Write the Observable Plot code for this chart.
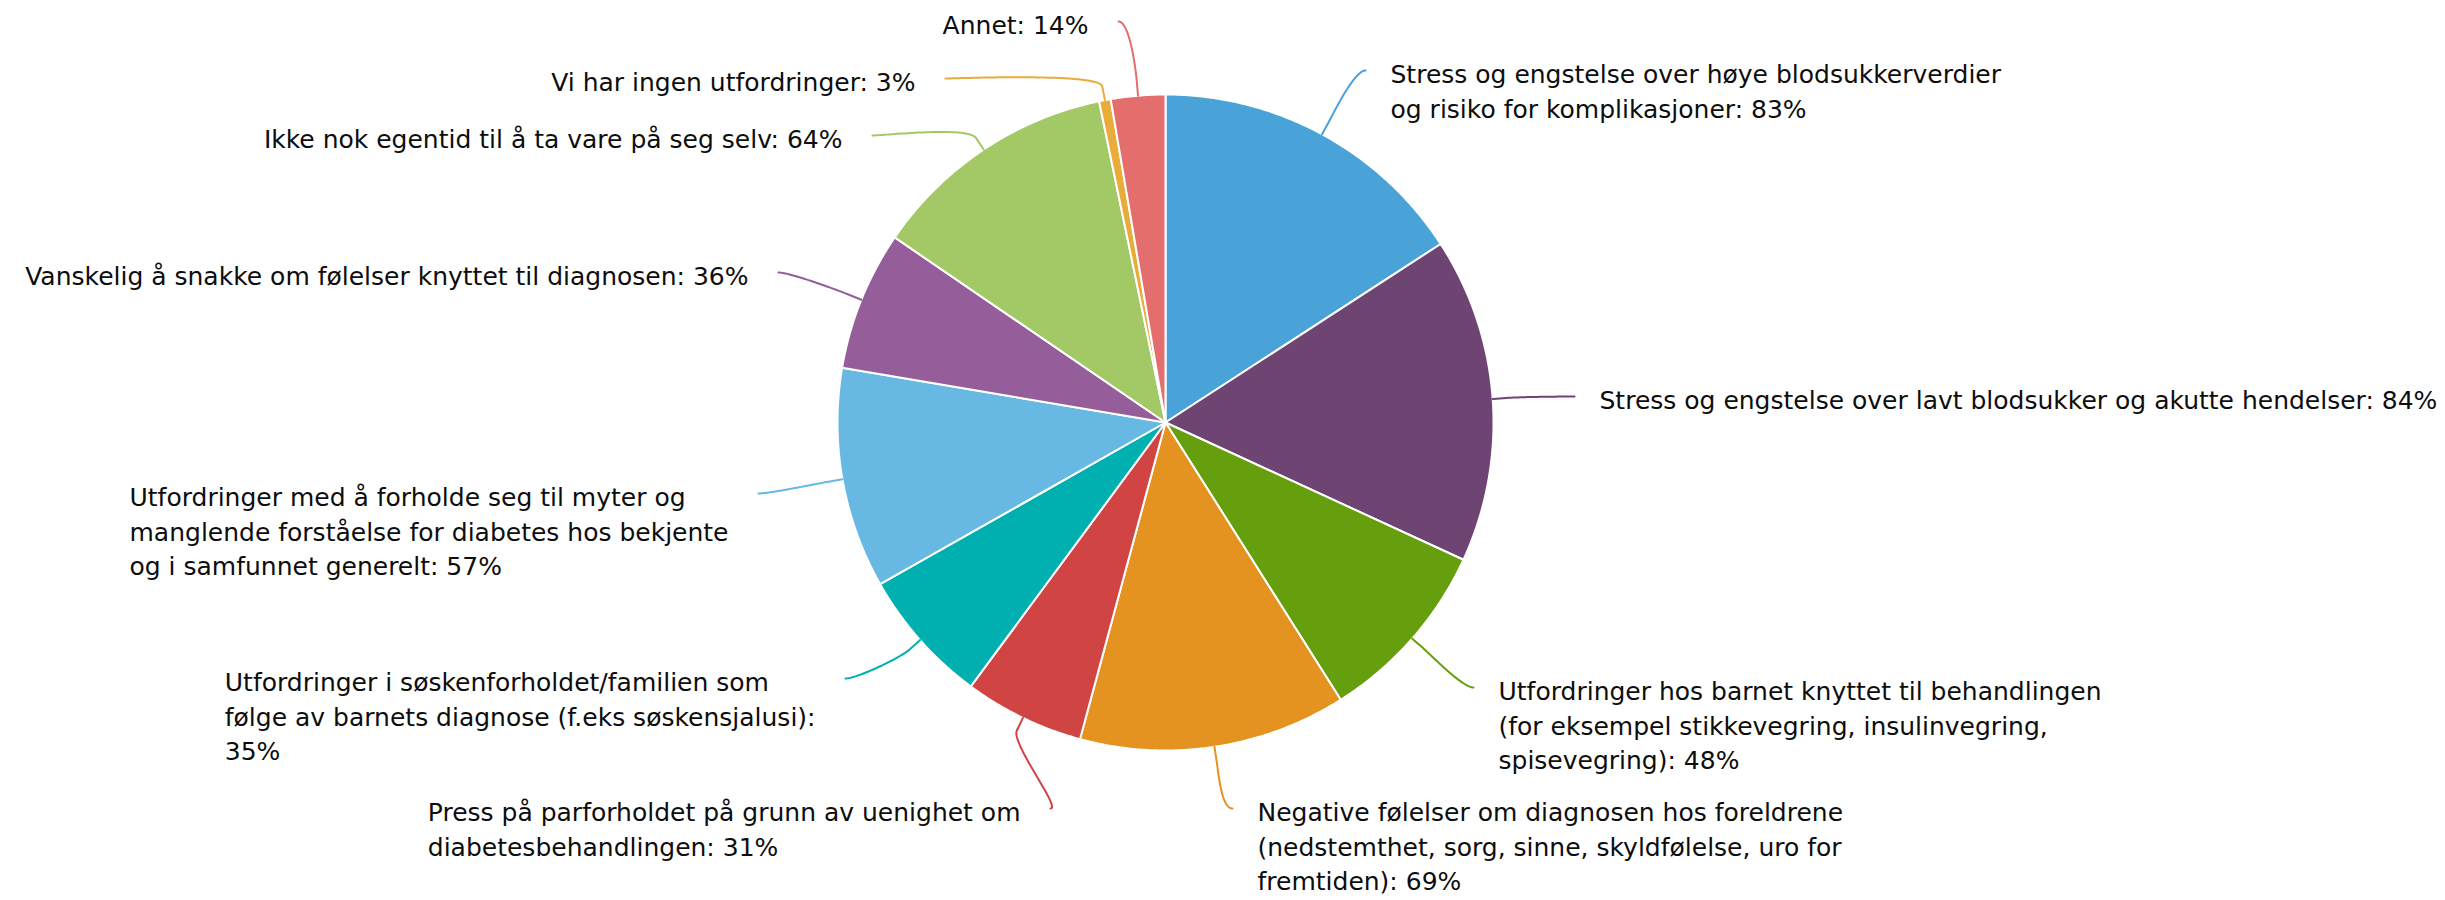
<!DOCTYPE html>
<html>
<head>
<meta charset="utf-8">
<script src="https://cdn.jsdelivr.net/npm/d3@7"></script>
<script src="https://cdn.jsdelivr.net/npm/@observablehq/plot@0.6"></script>
<style>
  html, body { margin: 0; padding: 0; background: #ffffff; }
  #chart svg { display: block; background: #ffffff; }
</style>
</head>
<body>
<div id="chart"></div>
<script>
// ---------------- data ----------------
const categories = [
  "Stress og engstelse over høye blodsukkerverdier og risiko for komplikasjoner",
  "Stress og engstelse over lavt blodsukker og akutte hendelser",
  "Utfordringer hos barnet knyttet til behandlingen (for eksempel stikkevegring, insulinvegring, spisevegring)",
  "Negative følelser om diagnosen hos foreldrene (nedstemthet, sorg, sinne, skyldfølelse, uro for fremtiden)",
  "Press på parforholdet på grunn av uenighet om diabetesbehandlingen",
  "Utfordringer i søskenforholdet/familien som følge av barnets diagnose (f.eks søskensjalusi)",
  "Utfordringer med å forholde seg til myter og manglende forståelse for diabetes hos bekjente og i samfunnet generelt",
  "Vanskelig å snakke om følelser knyttet til diagnosen",
  "Ikke nok egentid til å ta vare på seg selv",
  "Vi har ingen utfordringer",
  "Annet"
];
const values = [83, 84, 48, 69, 31, 35, 57, 36, 64, 3, 14];
const colors = ["#4aa3d8", "#6d4472", "#669f0d", "#e49320", "#d04444", "#00afaf",
                "#67b9e4", "#955e9a", "#a3c966", "#e9ab3a", "#e46e6e"];
// label text as wrapped in the chart ({v} = value)
const labelTemplates = [
  "Stress og engstelse over høye blodsukkerverdier\nog risiko for komplikasjoner: {v}%",
  "Stress og engstelse over lavt blodsukker og akutte hendelser: {v}%",
  "Utfordringer hos barnet knyttet til behandlingen\n(for eksempel stikkevegring, insulinvegring,\nspisevegring): {v}%",
  "Negative følelser om diagnosen hos foreldrene\n(nedstemthet, sorg, sinne, skyldfølelse, uro for\nfremtiden): {v}%",
  "Press på parforholdet på grunn av uenighet om\ndiabetesbehandlingen: {v}%",
  "Utfordringer i søskenforholdet/familien som\nfølge av barnets diagnose (f.eks søskensjalusi):\n{v}%",
  "Utfordringer med å forholde seg til myter og\nmanglende forståelse for diabetes hos bekjente\nog i samfunnet generelt: {v}%",
  "Vanskelig å snakke om følelser knyttet til diagnosen: {v}%",
  "Ikke nok egentid til å ta vare på seg selv: {v}%",
  "Vi har ingen utfordringer: {v}%",
  "Annet: {v}%"
];

// ---------------- layout ----------------
const W = 2445, H = 900;
const CX = 1165, CY = 422, R = 328;       // pie centre / radius (px)
const FONT = "DejaVu Sans", FS = 25, LH = 1.38;
// connector end point next to each label (px) and side of the label
const labelAnchors = [
  [1365, 70, "R"], [1574, 396, "R"], [1473, 687, "R"], [1232, 808, "R"],
  [1050, 808, "L"], [845, 678, "L"], [758, 493, "L"], [778, 272, "L"],
  [872, 135, "L"], [945, 78, "L"], [1118, 21, "L"]
];

// ---------------- build ----------------
const arcs = d3.pie().sort(null).value(d => d)(values);

const slicePts = [];
arcs.forEach((a, i) => {
  const n = Math.max(2, Math.ceil((a.endAngle - a.startAngle) / (Math.PI / 360)));
  slicePts.push({cat: categories[i], x: CX, y: CY});
  for (let k = 0; k <= n; k++) {
    const t = a.startAngle + (a.endAngle - a.startAngle) * k / n;
    slicePts.push({cat: categories[i], x: CX + R * Math.sin(t), y: CY - R * Math.cos(t)});
  }
  slicePts.push({cat: categories[i], x: CX, y: CY});
});

const connPts = [];
arcs.forEach((a, i) => {
  const m = (a.startAngle + a.endAngle) / 2;
  const [ex, ey, side] = labelAnchors[i];
  const touch = [CX + R * Math.sin(m), CY - R * Math.cos(m)];
  const brk = [CX + (R + 14) * Math.sin(m), CY - (R + 14) * Math.cos(m)];
  const p0 = [ex, ey];
  const p1 = [ex + (side === "R" ? -11 : 11), ey];
  const p2 = [2 * brk[0] - touch[0], 2 * brk[1] - touch[1]];
  const p3 = brk;
  const N = 40;
  for (let k = 0; k <= N; k++) {
    const t = k / N, u = 1 - t;
    const x = u*u*u*p0[0] + 3*u*u*t*p1[0] + 3*u*t*t*p2[0] + t*t*t*p3[0];
    const y = u*u*u*p0[1] + 3*u*u*t*p1[1] + 3*u*t*t*p2[1] + t*t*t*p3[1];
    connPts.push({cat: categories[i], x, y});
  }
  connPts.push({cat: categories[i], x: touch[0], y: touch[1]});
});

const ctx = document.createElement("canvas").getContext("2d");
ctx.font = `${FS}px "${FONT}"`;
const labels = labelTemplates.map((tpl, i) => {
  const text = tpl.replace("{v}", values[i]);
  const [ex, ey, side] = labelAnchors[i];
  const w = d3.max(text.split("\n"), s => ctx.measureText(s).width);
  const x = side === "R" ? ex + 25 : ex - 30 - w;
  const y = ey - 3 - 0.35 * FS;
  return {text, x, y};
});

const chart = Plot.plot({
  width: W, height: H,
  marginTop: 0, marginRight: 0, marginBottom: 0, marginLeft: 0,
  x: {domain: [0, W], range: [0, W], axis: null},
  y: {domain: [0, H], range: [0, H], axis: null},
  color: {domain: categories, range: colors},
  style: {background: "#ffffff"},
  marks: [
    Plot.line(slicePts, {x: "x", y: "y", z: "cat", fill: "cat", stroke: "#ffffff",
      strokeWidth: 2, strokeLinejoin: "round", curve: "linear"}),
    Plot.line(connPts, {x: "x", y: "y", z: "cat", stroke: "cat", strokeWidth: 2, curve: "linear"}),
    Plot.text(labels, {x: "x", y: "y", text: "text", textAnchor: "start", lineAnchor: "top",
      fontSize: FS, lineHeight: LH, fill: "#0d0d0d", fontFamily: FONT})
  ]
});
document.getElementById("chart").appendChild(chart);
</script>
</body>
</html>
